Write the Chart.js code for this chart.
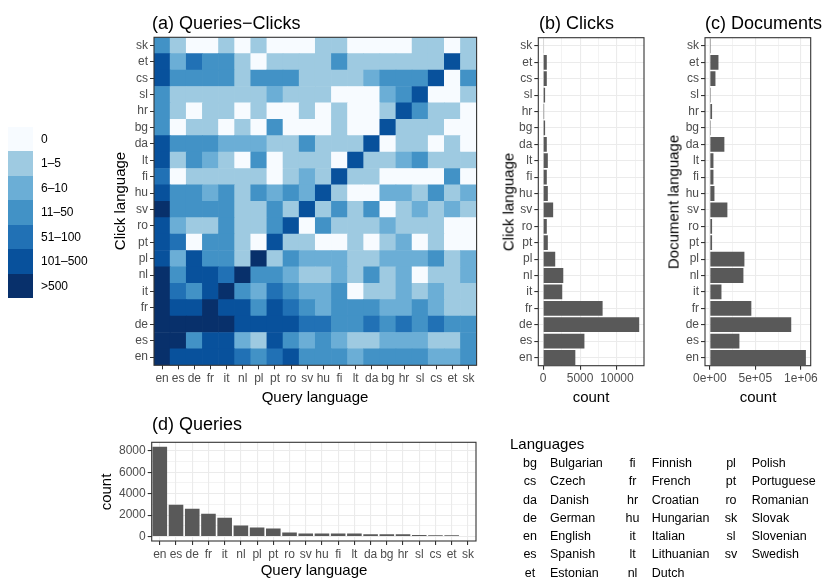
<!DOCTYPE html>
<html lang="en">
<head>
<meta charset="UTF-8">
<title>Queries and clicks by language</title>
<script src="https://cdn.jsdelivr.net/npm/chart.js@4.4.1/dist/chart.umd.min.js"></script>
<style>
    * { margin: 0; padding: 0; box-sizing: border-box; }
    body { background: #fff; font-family: "Liberation Sans", Arial, sans-serif; }
    .page { position: relative; width: 824px; height: 578px; overflow: hidden; background: #fff; }
    .page canvas { position: absolute; left: 0; top: 0; }
    .t { position: absolute; white-space: nowrap; line-height: 1; color: #000; }
    .title { font-size: 18px; }
    .axis { font-size: 15px; }
    .cx { transform: translateX(-50%); }
    .rot { transform: translate(-50%, -50%) rotate(-90deg); }
    .key { position: absolute; left: 8px; width: 25px; height: 24.5px; }
    .klab { font-size: 12px; }
    .tab { font-size: 12.5px; }
</style>
</head>
<body>
<div class="page" id="page">
    <canvas id="heat" width="824" height="578"></canvas>
    <canvas id="clicks" width="824" height="578"></canvas>
    <canvas id="docs" width="824" height="578"></canvas>
    <canvas id="queries" width="824" height="578"></canvas>

    <div class="t title" style="left:152px; top:13.7px;">(a) Queries−Clicks</div>
    <div class="t title" style="left:539px; top:13.7px;">(b) Clicks</div>
    <div class="t title" style="left:705px; top:13.7px;">(c) Documents</div>
    <div class="t title" style="left:152px; top:414.7px;">(d) Queries</div>

    <div class="t axis cx" style="left:315px; top:389px;">Query language</div>
    <div class="t axis cx" style="left:591px; top:389px;">count</div>
    <div class="t axis cx" style="left:758px; top:389px;">count</div>
    <div class="t axis cx" style="left:314px; top:562px;">Query language</div>
    <div class="t axis rot" style="left:119px; top:201.3px;">Click language</div>
    <div class="t axis rot" style="left:508px; top:201.7px;">Click language</div>
    <div class="t axis rot" style="left:673px; top:201.7px;">Document language</div>
    <div class="t axis rot" style="left:105px; top:491.7px;">count</div>

    <div class="t axis" style="left:510px; top:436.3px;">Languages</div>
</div>

<script>
    const langs = ['en', 'es', 'de', 'fr', 'it', 'nl', 'pl', 'pt', 'ro', 'sv', 'hu', 'fi', 'lt', 'da', 'bg', 'hr', 'sl', 'cs', 'et', 'sk'];

    const binLabels = ['0', '1–5', '6–10', '11–50', '51–100', '101–500', '>500'];
    const binColors = ['#f7fbff', '#9ecae1', '#6baed6', '#4292c6', '#2171b5', '#08519c', '#08306b'];

    // bin index per cell: one row per click language (en at the bottom), columns follow langs (query language)
    const levels = [
        [6, 5, 5, 5, 5, 4, 3, 4, 5, 3, 3, 3, 2, 3, 3, 3, 3, 2, 2, 3], // en
        [6, 6, 3, 5, 5, 2, 1, 5, 3, 2, 3, 2, 1, 1, 2, 2, 2, 1, 1, 3], // es
        [6, 6, 6, 6, 6, 5, 5, 5, 5, 4, 4, 3, 3, 4, 3, 4, 3, 4, 3, 3], // de
        [6, 5, 5, 6, 5, 5, 3, 5, 4, 3, 2, 3, 3, 3, 2, 2, 3, 2, 1, 1], // fr
        [6, 4, 3, 5, 6, 3, 2, 4, 3, 2, 2, 3, 0, 1, 1, 2, 1, 2, 1, 1], // it
        [6, 3, 5, 5, 4, 6, 3, 3, 2, 1, 1, 2, 1, 3, 1, 2, 0, 1, 1, 2], // nl
        [5, 2, 5, 3, 3, 1, 6, 1, 3, 2, 2, 2, 1, 1, 2, 2, 2, 3, 1, 2], // pl
        [5, 4, 0, 3, 3, 1, 0, 5, 1, 1, 0, 0, 1, 0, 1, 2, 0, 1, 0, 0], // pt
        [5, 2, 1, 1, 3, 1, 1, 3, 5, 0, 3, 1, 1, 1, 2, 1, 1, 1, 0, 0], // ro
        [6, 3, 3, 3, 3, 1, 1, 3, 1, 5, 1, 3, 1, 3, 0, 1, 2, 1, 2, 1], // sv
        [5, 3, 3, 2, 3, 1, 3, 2, 3, 2, 5, 1, 0, 0, 2, 2, 1, 3, 1, 2], // hu
        [4, 0, 1, 1, 1, 1, 1, 0, 1, 2, 1, 5, 1, 1, 0, 0, 0, 0, 3, 0], // fi
        [5, 1, 3, 2, 1, 0, 3, 0, 1, 1, 1, 0, 5, 1, 1, 2, 3, 1, 1, 1], // lt
        [5, 3, 3, 3, 2, 2, 2, 1, 1, 3, 1, 1, 1, 5, 0, 1, 1, 0, 1, 0], // da
        [3, 0, 1, 1, 0, 1, 0, 3, 0, 0, 0, 1, 0, 0, 5, 1, 1, 1, 0, 0], // bg
        [3, 1, 0, 1, 1, 0, 1, 0, 0, 1, 0, 1, 0, 0, 1, 5, 3, 1, 1, 0], // hr
        [3, 1, 1, 1, 1, 1, 1, 2, 1, 1, 1, 0, 0, 0, 2, 3, 5, 0, 0, 1], // sl
        [5, 3, 3, 3, 3, 1, 3, 3, 3, 1, 1, 1, 1, 2, 3, 3, 3, 5, 0, 3], // cs
        [5, 2, 4, 3, 3, 1, 0, 1, 1, 1, 1, 3, 1, 1, 1, 1, 1, 1, 5, 1], // et
        [3, 1, 0, 0, 1, 0, 1, 0, 0, 0, 1, 1, 0, 0, 0, 0, 1, 1, 0, 1]  // sk
    ];

    const clicks = [4360, 5590, 13000, 8050, 2590, 2730, 1640, 640, 500, 1360, 640, 500, 640, 500, 270, 140, 270, 500, 500, 90];
    const documents = [1055000, 325000, 894000, 456000, 128000, 369000, 380000, 25000, 25000, 193000, 51000, 40000, 40000, 160000, 11000, 25000, 11000, 62000, 95000, 11000];
    const queries = [8380, 2970, 2600, 2130, 1760, 1020, 835, 742, 371, 290, 290, 280, 280, 220, 210, 200, 130, 120, 110, 40];

    const clickTicks = [0, 2500, 5000, 7500, 10000, 12500];
    const clickTickLabels = ['0', '', '5000', '', '10000', ''];
    const docTicks = [0, 250000, 500000, 750000, 1000000];
    const docTickLabels = ['0e+00', '', '5e+05', '', '1e+06'];
    const queryTicks = [0, 1000, 2000, 3000, 4000, 5000, 6000, 7000, 8000];
    const queryTickLabels = ['0', '', '2000', '', '4000', '', '6000', '', '8000'];

    const tableCodes = [
        ['bg', 'cs', 'da', 'de', 'en', 'es', 'et'],
        ['fi', 'fr', 'hr', 'hu', 'it', 'lt', 'nl'],
        ['pl', 'pt', 'ro', 'sk', 'sl', 'sv']
    ];
    const tableNames = [
        ['Bulgarian', 'Czech', 'Danish', 'German', 'English', 'Spanish', 'Estonian'],
        ['Finnish', 'French', 'Croatian', 'Hungarian', 'Italian', 'Lithuanian', 'Dutch'],
        ['Polish', 'Portuguese', 'Romanian', 'Slovak', 'Slovenian', 'Swedish']
    ];

    const page = document.getElementById('page');
    function addText(cls, text, style) {
        const el = document.createElement('div');
        el.className = 't ' + cls;
        el.textContent = text;
        el.setAttribute('style', style);
        page.appendChild(el);
    }

    // colour legend
    binLabels.forEach((lab, i) => {
        const top = 126.7 + i * 24.5;
        const key = document.createElement('div');
        key.className = 'key';
        key.style.top = top + 'px';
        key.style.background = binColors[i];
        page.appendChild(key);
        addText('klab', lab, `left:41px; top:${top + 6.2}px;`);
    });

    // language table
    const codeX = [530, 632.5, 731];
    const nameX = [550, 651.7, 751.7];
    tableCodes.forEach((col, c) => {
        col.forEach((code, r) => {
            const top = 467.7 + r * 18.25 - 10.6;
            addText('tab cx', code, `left:${codeX[c]}px; top:${top}px;`);
            addText('tab', tableNames[c][r], `left:${nameX[c]}px; top:${top}px;`);
        });
    });

    Chart.defaults.font.family = '"Liberation Sans", Arial, sans-serif';
    Chart.defaults.font.size = 12;

    const grey = '#4d4d4d';
    const dark = '#333333';
    const gridCol = '#ebebeb';

    const panelBorder = {
        id: 'panelBorder',
        afterDraw(chart) {
            const a = chart.chartArea;
            const ctx = chart.ctx;
            ctx.save();
            ctx.strokeStyle = dark;
            ctx.lineWidth = 1.1;
            ctx.strokeRect(a.left, a.top, a.right - a.left, a.bottom - a.top);
            ctx.restore();
        }
    };

    function fixedSize(size) {
        return s => {
            if (s.isHorizontal()) s.height = size;
            else s.width = size;
        };
    }

    function setTicks(values) {
        return s => { s.ticks = values.map(v => ({ value: v })); };
    }

    const baseOptions = {
        animation: false,
        responsive: false,
        events: [],
        plugins: { legend: { display: false }, tooltip: { enabled: false } }
    };

    const tickStyle = { color: grey, padding: 2, autoSkip: false, maxRotation: 0, minRotation: 0 };

    // (a) heat map built from stacked unit bars
    new Chart(document.getElementById('heat'), {
        type: 'bar',
        data: {
            labels: langs,
            datasets: levels.map((row, r) => ({
                label: langs[r],
                data: row.map(() => 1),
                backgroundColor: row.map(l => binColors[l]),
                borderWidth: 0,
                barPercentage: 1,
                categoryPercentage: 1
            }))
        },
        options: {
            ...baseOptions,
            layout: { padding: { left: 114, top: 37.3, right: 347.4, bottom: 182.7 } },
            scales: {
                x: {
                    stacked: true,
                    offset: true,
                    grid: { offset: false, color: 'rgba(0,0,0,0)', tickColor: dark, tickLength: 4 },
                    border: { display: false },
                    ticks: { ...tickStyle },
                    afterFit: fixedSize(30)
                },
                y: {
                    type: 'linear',
                    stacked: true,
                    min: 0,
                    max: 20,
                    afterBuildTicks: setTicks(langs.map((_, i) => i + 0.5)),
                    grid: { color: 'rgba(0,0,0,0)', tickColor: dark, tickLength: 4 },
                    border: { display: false },
                    ticks: { ...tickStyle, callback: (v, i) => langs[i] },
                    afterFit: fixedSize(40)
                }
            }
        },
        plugins: [panelBorder]
    });

    function barAxis(values, labels, min, max, width) {
        return {
            type: 'linear',
            min: min,
            max: max,
            afterBuildTicks: setTicks(values),
            grid: {
                color: gridCol,
                lineWidth: c => (labels[c.index] ? 1.1 : 0.6),
                tickColor: c => (labels[c.index] ? dark : 'rgba(0,0,0,0)'),
                tickLength: 4
            },
            border: { display: false },
            ticks: { ...tickStyle, callback: (v, i) => labels[i] },
            afterFit: fixedSize(width)
        };
    }

    function catAxis(reverse, width) {
        return {
            reverse: reverse,
            offset: true,
            grid: { offset: false, color: gridCol, lineWidth: 1.1, tickColor: dark, tickLength: 4 },
            border: { display: false },
            ticks: { ...tickStyle },
            afterFit: fixedSize(width)
        };
    }

    // (b) clicks
    new Chart(document.getElementById('clicks'), {
        type: 'bar',
        data: {
            labels: langs,
            datasets: [{ data: clicks, backgroundColor: '#595959', barPercentage: 0.9, categoryPercentage: 1 }]
        },
        options: {
            ...baseOptions,
            indexAxis: 'y',
            layout: { padding: { left: 508.3, top: 37.7, right: 180, bottom: 182.3 } },
            scales: {
                x: barAxis(clickTicks, clickTickLabels, -650, 13650, 30),
                y: catAxis(true, 30)
            }
        },
        plugins: [panelBorder]
    });

    // (c) documents
    new Chart(document.getElementById('docs'), {
        type: 'bar',
        data: {
            labels: langs,
            datasets: [{ data: documents, backgroundColor: '#595959', barPercentage: 0.9, categoryPercentage: 1 }]
        },
        options: {
            ...baseOptions,
            indexAxis: 'y',
            layout: { padding: { left: 675, top: 37.7, right: 13.3, bottom: 182.3 } },
            scales: {
                x: barAxis(docTicks, docTickLabels, -52750, 1107750, 30),
                y: catAxis(true, 30)
            }
        },
        plugins: [panelBorder]
    });

    // (d) queries
    new Chart(document.getElementById('queries'), {
        type: 'bar',
        data: {
            labels: langs,
            datasets: [{ data: queries, backgroundColor: '#595959', barPercentage: 0.9, categoryPercentage: 1 }]
        },
        options: {
            ...baseOptions,
            layout: { padding: { left: 111.7, top: 442.3, right: 348, bottom: 12 } },
            scales: {
                x: catAxis(false, 25),
                y: barAxis(queryTicks, queryTickLabels, -419, 8799, 40)
            }
        },
        plugins: [panelBorder]
    });
</script>
</body>
</html>
